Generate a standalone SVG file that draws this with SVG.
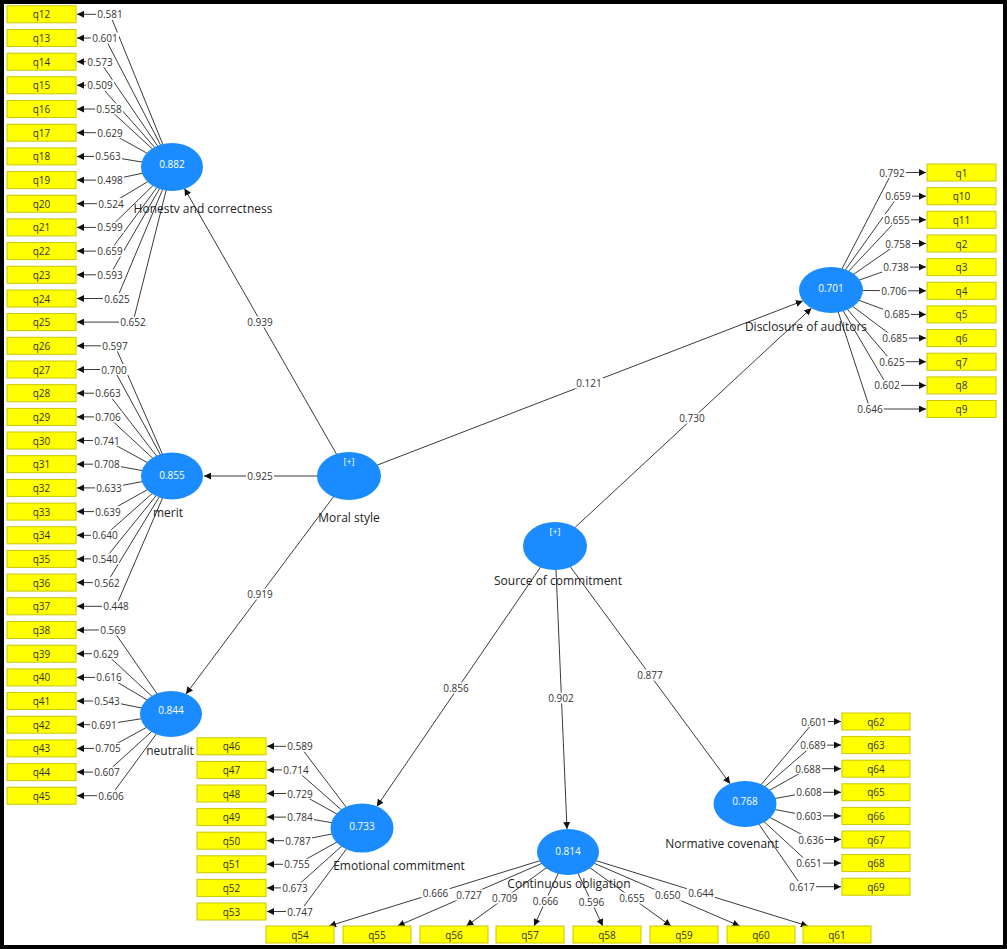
<svg xmlns="http://www.w3.org/2000/svg" width="1007" height="949" viewBox="0 0 1007 949">
<defs>
<marker id="ah" viewBox="0 0 10 10" refX="10" refY="5" markerWidth="7" markerHeight="7" markerUnits="userSpaceOnUse" orient="auto"><path d="M0,0 L10,5 L0,10 z" fill="#111"/></marker>
<style>
.ln{stroke:#3a3a3a;stroke-width:1;fill:none;marker-end:url(#ah)}
.lb rect{fill:#fff}
.lb text,.bx text{font-family:"Open Sans","Liberation Sans",sans-serif;font-size:10px;fill:#333;text-anchor:middle;dominant-baseline:central}
.bx rect{fill:#ffff00;stroke:#c8c800;stroke-width:1}
.lv ellipse{fill:#1a8cff}
.lv .v{font-family:"Open Sans","Liberation Sans",sans-serif;font-size:10px;fill:#fff;text-anchor:middle;dominant-baseline:central}
.lv .n{font-family:"Open Sans","Liberation Sans",sans-serif;font-size:12px;fill:#222;text-anchor:middle;dominant-baseline:central}
</style>
</defs>
<rect x="0" y="0" width="1007" height="949" fill="#fff"/>
<rect x="2" y="2" width="1003" height="945" fill="none" stroke="#000" stroke-width="4"/>

<g id="connectors">
<!-- structural -->
<path class="ln" d="M349,476 L184.5,188.5"/>
<path class="ln" d="M349,476 L204,476"/>
<path class="ln" d="M349,476 L186,694"/>
<path class="ln" d="M349,476 L802.8,300.9"/>
<path class="ln" d="M555,546 L811.4,308.2"/>
<path class="ln" d="M555,546 L376.8,806.4"/>
<path class="ln" d="M555,546 L567,829"/>
<path class="ln" d="M555,546 L730.1,783.7"/>
<!-- Honesty -->
<path class="ln" d="M172,167 L110,14.3 L77,14.3"/>
<path class="ln" d="M172,167 L105,38 L77,38"/>
<path class="ln" d="M172,167 L100,61.7 L77,61.7"/>
<path class="ln" d="M172,167 L100,85.3 L77,85.3"/>
<path class="ln" d="M172,167 L109,109 L77,109"/>
<path class="ln" d="M172,167 L110,132.7 L77,132.7"/>
<path class="ln" d="M172,167 L108,156.4 L77,156.4"/>
<path class="ln" d="M172,167 L110,180.1 L77,180.1"/>
<path class="ln" d="M172,167 L111,203.7 L77,203.7"/>
<path class="ln" d="M172,167 L110,227.4 L77,227.4"/>
<path class="ln" d="M172,167 L110,251.1 L77,251.1"/>
<path class="ln" d="M172,167 L110,274.8 L77,274.8"/>
<path class="ln" d="M172,167 L117,298.5 L77,298.5"/>
<path class="ln" d="M172,167 L133,322.1 L77,322.1"/>
<!-- Merit -->
<path class="ln" d="M172,476 L115,345.8 L77,345.8"/>
<path class="ln" d="M172,476 L114,369.5 L77,369.5"/>
<path class="ln" d="M172,476 L108,393.2 L77,393.2"/>
<path class="ln" d="M172,476 L108,416.9 L77,416.9"/>
<path class="ln" d="M172,476 L107,440.5 L77,440.5"/>
<path class="ln" d="M172,476 L107,464.2 L77,464.2"/>
<path class="ln" d="M172,476 L109,487.9 L77,487.9"/>
<path class="ln" d="M172,476 L108,511.6 L77,511.6"/>
<path class="ln" d="M172,476 L105,535.3 L77,535.3"/>
<path class="ln" d="M172,476 L105,558.9 L77,558.9"/>
<path class="ln" d="M172,476 L107,582.6 L77,582.6"/>
<path class="ln" d="M172,476 L116,606.3 L77,606.3"/>
<!-- Neutralit -->
<path class="ln" d="M171,714 L113,630 L77,630"/>
<path class="ln" d="M171,714 L106,653.7 L77,653.7"/>
<path class="ln" d="M171,714 L109,677.4 L77,677.4"/>
<path class="ln" d="M171,714 L107,701 L77,701"/>
<path class="ln" d="M171,714 L104,724.7 L77,724.7"/>
<path class="ln" d="M171,714 L108,748.4 L77,748.4"/>
<path class="ln" d="M171,714 L107,772.1 L77,772.1"/>
<path class="ln" d="M171,714 L111,795.7 L77,795.7"/>
<!-- Emotional -->
<path class="ln" d="M362,828 L300,746.3 L267,746.3"/>
<path class="ln" d="M362,828 L296,769.9 L267,769.9"/>
<path class="ln" d="M362,828 L300,793.5 L267,793.5"/>
<path class="ln" d="M362,828 L300,817.1 L267,817.1"/>
<path class="ln" d="M362,828 L298,840.7 L267,840.7"/>
<path class="ln" d="M362,828 L297,864.3 L267,864.3"/>
<path class="ln" d="M362,828 L295,887.9 L267,887.9"/>
<path class="ln" d="M362,828 L300,911.5 L267,911.5"/>
<!-- Disclosure -->
<path class="ln" d="M831,290 L892,172.5 L926,172.5"/>
<path class="ln" d="M831,290 L898,196.2 L926,196.2"/>
<path class="ln" d="M831,290 L897,219.8 L926,219.8"/>
<path class="ln" d="M831,290 L898,243.5 L926,243.5"/>
<path class="ln" d="M831,290 L896,267.1 L926,267.1"/>
<path class="ln" d="M831,290 L894,290.8 L926,290.8"/>
<path class="ln" d="M831,290 L897,314.4 L926,314.4"/>
<path class="ln" d="M831,290 L895,338.1 L926,338.1"/>
<path class="ln" d="M831,290 L892,361.7 L926,361.7"/>
<path class="ln" d="M831,290 L887,385.4 L926,385.4"/>
<path class="ln" d="M831,290 L870,409 L926,409"/>
<!-- Normative -->
<path class="ln" d="M745,804 L814,721.5 L841,721.5"/>
<path class="ln" d="M745,804 L813,745.1 L841,745.1"/>
<path class="ln" d="M745,804 L808,768.7 L841,768.7"/>
<path class="ln" d="M745,804 L809,792.3 L841,792.3"/>
<path class="ln" d="M745,804 L809,815.9 L841,815.9"/>
<path class="ln" d="M745,804 L811,839.5 L841,839.5"/>
<path class="ln" d="M745,804 L809,863.1 L841,863.1"/>
<path class="ln" d="M745,804 L802,886.7 L841,886.7"/>
<!-- Continuous -->
<path class="ln" d="M568,852 L329.1,926"/>
<path class="ln" d="M568,852 L397.7,926"/>
<path class="ln" d="M568,852 L466.4,926"/>
<path class="ln" d="M568,852 L534.1,926"/>
<path class="ln" d="M568,852 L602.8,926"/>
<path class="ln" d="M568,852 L671,926"/>
<path class="ln" d="M568,852 L739.6,926"/>
<path class="ln" d="M568,852 L807.8,926"/>
</g>

<g id="connector-labels" class="lb">
<rect x="246" y="316.5" width="28" height="11"/><text x="260" y="322">0.939</text>
<rect x="246" y="470.5" width="28" height="11"/><text x="260" y="476">0.925</text>
<rect x="246" y="588.5" width="28" height="11"/><text x="260" y="594">0.919</text>
<rect x="575" y="377.5" width="28" height="11"/><text x="589" y="383">0.121</text>
<rect x="678" y="412.5" width="28" height="11"/><text x="692" y="418">0.730</text>
<rect x="442" y="682.5" width="28" height="11"/><text x="456" y="688">0.856</text>
<rect x="547" y="692.5" width="28" height="11"/><text x="561" y="698">0.902</text>
<rect x="636" y="669.5" width="28" height="11"/><text x="650" y="675">0.877</text>

<rect x="96" y="8.8" width="28" height="11"/><text x="110" y="14.3">0.581</text>
<rect x="91" y="32.5" width="28" height="11"/><text x="105" y="38">0.601</text>
<rect x="86" y="56.2" width="28" height="11"/><text x="100" y="61.7">0.573</text>
<rect x="86" y="79.8" width="28" height="11"/><text x="100" y="85.3">0.509</text>
<rect x="95" y="103.5" width="28" height="11"/><text x="109" y="109">0.558</text>
<rect x="96" y="127.2" width="28" height="11"/><text x="110" y="132.7">0.629</text>
<rect x="94" y="150.9" width="28" height="11"/><text x="108" y="156.4">0.563</text>
<rect x="96" y="174.6" width="28" height="11"/><text x="110" y="180.1">0.498</text>
<rect x="97" y="198.2" width="28" height="11"/><text x="111" y="203.7">0.524</text>
<rect x="96" y="221.9" width="28" height="11"/><text x="110" y="227.4">0.599</text>
<rect x="96" y="245.6" width="28" height="11"/><text x="110" y="251.1">0.659</text>
<rect x="96" y="269.3" width="28" height="11"/><text x="110" y="274.8">0.593</text>
<rect x="103" y="293" width="28" height="11"/><text x="117" y="298.5">0.625</text>
<rect x="119" y="316.6" width="28" height="11"/><text x="133" y="322.1">0.652</text>

<rect x="101" y="340.3" width="28" height="11"/><text x="115" y="345.8">0.597</text>
<rect x="100" y="364" width="28" height="11"/><text x="114" y="369.5">0.700</text>
<rect x="94" y="387.7" width="28" height="11"/><text x="108" y="393.2">0.663</text>
<rect x="94" y="411.4" width="28" height="11"/><text x="108" y="416.9">0.706</text>
<rect x="93" y="435" width="28" height="11"/><text x="107" y="440.5">0.741</text>
<rect x="93" y="458.7" width="28" height="11"/><text x="107" y="464.2">0.708</text>
<rect x="95" y="482.4" width="28" height="11"/><text x="109" y="487.9">0.633</text>
<rect x="94" y="506.1" width="28" height="11"/><text x="108" y="511.6">0.639</text>
<rect x="91" y="529.8" width="28" height="11"/><text x="105" y="535.3">0.640</text>
<rect x="91" y="553.4" width="28" height="11"/><text x="105" y="558.9">0.540</text>
<rect x="93" y="577.1" width="28" height="11"/><text x="107" y="582.6">0.562</text>
<rect x="102" y="600.8" width="28" height="11"/><text x="116" y="606.3">0.448</text>

<rect x="99" y="624.5" width="28" height="11"/><text x="113" y="630">0.569</text>
<rect x="92" y="648.2" width="28" height="11"/><text x="106" y="653.7">0.629</text>
<rect x="95" y="671.9" width="28" height="11"/><text x="109" y="677.4">0.616</text>
<rect x="93" y="695.5" width="28" height="11"/><text x="107" y="701">0.543</text>
<rect x="90" y="719.2" width="28" height="11"/><text x="104" y="724.7">0.691</text>
<rect x="94" y="742.9" width="28" height="11"/><text x="108" y="748.4">0.705</text>
<rect x="93" y="766.6" width="28" height="11"/><text x="107" y="772.1">0.607</text>
<rect x="97" y="790.2" width="28" height="11"/><text x="111" y="795.7">0.606</text>

<rect x="286" y="740.8" width="28" height="11"/><text x="300" y="746.3">0.589</text>
<rect x="282" y="764.4" width="28" height="11"/><text x="296" y="769.9">0.714</text>
<rect x="286" y="788" width="28" height="11"/><text x="300" y="793.5">0.729</text>
<rect x="286" y="811.6" width="28" height="11"/><text x="300" y="817.1">0.784</text>
<rect x="284" y="835.2" width="28" height="11"/><text x="298" y="840.7">0.787</text>
<rect x="283" y="858.8" width="28" height="11"/><text x="297" y="864.3">0.755</text>
<rect x="281" y="882.4" width="28" height="11"/><text x="295" y="887.9">0.673</text>
<rect x="286" y="906" width="28" height="11"/><text x="300" y="911.5">0.747</text>

<rect x="878" y="167" width="28" height="11"/><text x="892" y="172.5">0.792</text>
<rect x="884" y="190.7" width="28" height="11"/><text x="898" y="196.2">0.659</text>
<rect x="883" y="214.3" width="28" height="11"/><text x="897" y="219.8">0.655</text>
<rect x="884" y="238" width="28" height="11"/><text x="898" y="243.5">0.758</text>
<rect x="882" y="261.6" width="28" height="11"/><text x="896" y="267.1">0.738</text>
<rect x="880" y="285.3" width="28" height="11"/><text x="894" y="290.8">0.706</text>
<rect x="883" y="308.9" width="28" height="11"/><text x="897" y="314.4">0.685</text>
<rect x="881" y="332.6" width="28" height="11"/><text x="895" y="338.1">0.685</text>
<rect x="878" y="356.2" width="28" height="11"/><text x="892" y="361.7">0.625</text>
<rect x="873" y="379.9" width="28" height="11"/><text x="887" y="385.4">0.602</text>
<rect x="856" y="403.5" width="28" height="11"/><text x="870" y="409">0.646</text>

<rect x="800" y="716" width="28" height="11"/><text x="814" y="721.5">0.601</text>
<rect x="799" y="739.6" width="28" height="11"/><text x="813" y="745.1">0.689</text>
<rect x="794" y="763.2" width="28" height="11"/><text x="808" y="768.7">0.688</text>
<rect x="795" y="786.8" width="28" height="11"/><text x="809" y="792.3">0.608</text>
<rect x="795" y="810.4" width="28" height="11"/><text x="809" y="815.9">0.603</text>
<rect x="797" y="834" width="28" height="11"/><text x="811" y="839.5">0.636</text>
<rect x="795" y="857.6" width="28" height="11"/><text x="809" y="863.1">0.651</text>
<rect x="788" y="881.2" width="28" height="11"/><text x="802" y="886.7">0.617</text>

<rect x="421.6" y="887.5" width="28" height="11"/><text x="435.6" y="893">0.666</text>
<rect x="455" y="889.5" width="28" height="11"/><text x="469" y="895">0.727</text>
<rect x="490.8" y="892.5" width="28" height="11"/><text x="504.8" y="898">0.709</text>
<rect x="531.6" y="895.5" width="28" height="11"/><text x="545.6" y="901">0.666</text>
<rect x="577.5" y="896.5" width="28" height="11"/><text x="591.5" y="902">0.596</text>
<rect x="618" y="892.5" width="28" height="11"/><text x="632" y="898">0.655</text>
<rect x="653.7" y="889.5" width="28" height="11"/><text x="667.7" y="895">0.650</text>
<rect x="686.9" y="887.5" width="28" height="11"/><text x="700.9" y="893">0.644</text>
</g>

<g id="honesty" class="lv"><ellipse cx="172" cy="167" rx="31" ry="24"/><text class="v" x="172" y="164">0.882</text><text class="n" x="203" y="208">Honestv and correctness</text></g>
<g id="merit" class="lv"><ellipse cx="172" cy="476" rx="31" ry="23.5"/><text class="v" x="172" y="475">0.855</text><text class="n" x="168" y="512">merit</text></g>
<g id="neutralit" class="lv"><ellipse cx="171" cy="714" rx="31" ry="23"/><text class="v" x="171" y="710">0.844</text><text class="n" x="170" y="750">neutralit</text></g>
<g id="moral-style" class="lv"><ellipse cx="349" cy="476" rx="32" ry="24"/><text class="v" x="349" y="461" style="font-size:9px">[+]</text><text class="n" x="349" y="517">Moral style</text></g>
<g id="source-of-commitment" class="lv"><ellipse cx="555" cy="546" rx="32" ry="24"/><text class="v" x="555" y="531" style="font-size:9px">[+]</text><text class="n" x="558" y="580">Source of commitment</text></g>
<g id="disclosure" class="lv"><ellipse cx="831" cy="290" rx="32" ry="23"/><text class="v" x="831" y="288">0.701</text><text class="n" x="806" y="326">Disclosure of auditors</text></g>
<g id="emotional" class="lv"><ellipse cx="362" cy="828" rx="31.5" ry="24.5"/><text class="v" x="362" y="826">0.733</text><text class="n" x="399" y="865">Emotional commitment</text></g>
<g id="continuous" class="lv"><ellipse cx="568" cy="852" rx="31" ry="23"/><text class="v" x="568" y="851">0.814</text><text class="n" x="569" y="883">Continuous obligation</text></g>
<g id="normative" class="lv"><ellipse cx="745" cy="804" rx="31.5" ry="23"/><text class="v" x="745" y="801">0.768</text><text class="n" x="722" y="843">Normative covenant</text></g>

<g id="ind-honesty" class="bx">
<g id="q12"><rect x="7" y="5.8" width="69" height="17"/><text x="41.5" y="14.3">q12</text></g>
<g id="q13"><rect x="7" y="29.5" width="69" height="17"/><text x="41.5" y="38">q13</text></g>
<g id="q14"><rect x="7" y="53.2" width="69" height="17"/><text x="41.5" y="61.7">q14</text></g>
<g id="q15"><rect x="7" y="76.8" width="69" height="17"/><text x="41.5" y="85.3">q15</text></g>
<g id="q16"><rect x="7" y="100.5" width="69" height="17"/><text x="41.5" y="109">q16</text></g>
<g id="q17"><rect x="7" y="124.2" width="69" height="17"/><text x="41.5" y="132.7">q17</text></g>
<g id="q18"><rect x="7" y="147.9" width="69" height="17"/><text x="41.5" y="156.4">q18</text></g>
<g id="q19"><rect x="7" y="171.6" width="69" height="17"/><text x="41.5" y="180.1">q19</text></g>
<g id="q20"><rect x="7" y="195.2" width="69" height="17"/><text x="41.5" y="203.7">q20</text></g>
<g id="q21"><rect x="7" y="218.9" width="69" height="17"/><text x="41.5" y="227.4">q21</text></g>
<g id="q22"><rect x="7" y="242.6" width="69" height="17"/><text x="41.5" y="251.1">q22</text></g>
<g id="q23"><rect x="7" y="266.3" width="69" height="17"/><text x="41.5" y="274.8">q23</text></g>
<g id="q24"><rect x="7" y="290" width="69" height="17"/><text x="41.5" y="298.5">q24</text></g>
<g id="q25"><rect x="7" y="313.6" width="69" height="17"/><text x="41.5" y="322.1">q25</text></g>
</g>
<g id="ind-merit" class="bx">
<g id="q26"><rect x="7" y="337.3" width="69" height="17"/><text x="41.5" y="345.8">q26</text></g>
<g id="q27"><rect x="7" y="361" width="69" height="17"/><text x="41.5" y="369.5">q27</text></g>
<g id="q28"><rect x="7" y="384.7" width="69" height="17"/><text x="41.5" y="393.2">q28</text></g>
<g id="q29"><rect x="7" y="408.4" width="69" height="17"/><text x="41.5" y="416.9">q29</text></g>
<g id="q30"><rect x="7" y="432" width="69" height="17"/><text x="41.5" y="440.5">q30</text></g>
<g id="q31"><rect x="7" y="455.7" width="69" height="17"/><text x="41.5" y="464.2">q31</text></g>
<g id="q32"><rect x="7" y="479.4" width="69" height="17"/><text x="41.5" y="487.9">q32</text></g>
<g id="q33"><rect x="7" y="503.1" width="69" height="17"/><text x="41.5" y="511.6">q33</text></g>
<g id="q34"><rect x="7" y="526.8" width="69" height="17"/><text x="41.5" y="535.3">q34</text></g>
<g id="q35"><rect x="7" y="550.4" width="69" height="17"/><text x="41.5" y="558.9">q35</text></g>
<g id="q36"><rect x="7" y="574.1" width="69" height="17"/><text x="41.5" y="582.6">q36</text></g>
<g id="q37"><rect x="7" y="597.8" width="69" height="17"/><text x="41.5" y="606.3">q37</text></g>
</g>
<g id="ind-neutralit" class="bx">
<g id="q38"><rect x="7" y="621.5" width="69" height="17"/><text x="41.5" y="630">q38</text></g>
<g id="q39"><rect x="7" y="645.2" width="69" height="17"/><text x="41.5" y="653.7">q39</text></g>
<g id="q40"><rect x="7" y="668.9" width="69" height="17"/><text x="41.5" y="677.4">q40</text></g>
<g id="q41"><rect x="7" y="692.5" width="69" height="17"/><text x="41.5" y="701">q41</text></g>
<g id="q42"><rect x="7" y="716.2" width="69" height="17"/><text x="41.5" y="724.7">q42</text></g>
<g id="q43"><rect x="7" y="739.9" width="69" height="17"/><text x="41.5" y="748.4">q43</text></g>
<g id="q44"><rect x="7" y="763.6" width="69" height="17"/><text x="41.5" y="772.1">q44</text></g>
<g id="q45"><rect x="7" y="787.2" width="69" height="17"/><text x="41.5" y="795.7">q45</text></g>
</g>
<g id="ind-emotional" class="bx">
<g id="q46"><rect x="197" y="737.8" width="69" height="17"/><text x="231.5" y="746.3">q46</text></g>
<g id="q47"><rect x="197" y="761.4" width="69" height="17"/><text x="231.5" y="769.9">q47</text></g>
<g id="q48"><rect x="197" y="785" width="69" height="17"/><text x="231.5" y="793.5">q48</text></g>
<g id="q49"><rect x="197" y="808.6" width="69" height="17"/><text x="231.5" y="817.1">q49</text></g>
<g id="q50"><rect x="197" y="832.2" width="69" height="17"/><text x="231.5" y="840.7">q50</text></g>
<g id="q51"><rect x="197" y="855.8" width="69" height="17"/><text x="231.5" y="864.3">q51</text></g>
<g id="q52"><rect x="197" y="879.4" width="69" height="17"/><text x="231.5" y="887.9">q52</text></g>
<g id="q53"><rect x="197" y="903" width="69" height="17"/><text x="231.5" y="911.5">q53</text></g>
</g>
<g id="ind-continuous" class="bx">
<g id="q54"><rect x="266" y="926" width="68" height="17"/><text x="300" y="934.5">q54</text></g>
<g id="q55"><rect x="343" y="926" width="68" height="17"/><text x="377" y="934.5">q55</text></g>
<g id="q56"><rect x="420" y="926" width="68" height="17"/><text x="454" y="934.5">q56</text></g>
<g id="q57"><rect x="496" y="926" width="68" height="17"/><text x="530" y="934.5">q57</text></g>
<g id="q58"><rect x="573" y="926" width="68" height="17"/><text x="607" y="934.5">q58</text></g>
<g id="q59"><rect x="650" y="926" width="68" height="17"/><text x="684" y="934.5">q59</text></g>
<g id="q60"><rect x="727" y="926" width="68" height="17"/><text x="761" y="934.5">q60</text></g>
<g id="q61"><rect x="803" y="926" width="68" height="17"/><text x="837" y="934.5">q61</text></g>
</g>
<g id="ind-disclosure" class="bx">
<g id="q1"><rect x="927" y="164" width="69" height="17"/><text x="961.5" y="172.5">q1</text></g>
<g id="q10"><rect x="927" y="187.7" width="69" height="17"/><text x="961.5" y="196.2">q10</text></g>
<g id="q11"><rect x="927" y="211.3" width="69" height="17"/><text x="961.5" y="219.8">q11</text></g>
<g id="q2"><rect x="927" y="235" width="69" height="17"/><text x="961.5" y="243.5">q2</text></g>
<g id="q3"><rect x="927" y="258.6" width="69" height="17"/><text x="961.5" y="267.1">q3</text></g>
<g id="q4"><rect x="927" y="282.3" width="69" height="17"/><text x="961.5" y="290.8">q4</text></g>
<g id="q5"><rect x="927" y="305.9" width="69" height="17"/><text x="961.5" y="314.4">q5</text></g>
<g id="q6"><rect x="927" y="329.6" width="69" height="17"/><text x="961.5" y="338.1">q6</text></g>
<g id="q7"><rect x="927" y="353.2" width="69" height="17"/><text x="961.5" y="361.7">q7</text></g>
<g id="q8"><rect x="927" y="376.9" width="69" height="17"/><text x="961.5" y="385.4">q8</text></g>
<g id="q9"><rect x="927" y="400.5" width="69" height="17"/><text x="961.5" y="409">q9</text></g>
</g>
<g id="ind-normative" class="bx">
<g id="q62"><rect x="842" y="713" width="68" height="17"/><text x="876" y="721.5">q62</text></g>
<g id="q63"><rect x="842" y="736.6" width="68" height="17"/><text x="876" y="745.1">q63</text></g>
<g id="q64"><rect x="842" y="760.2" width="68" height="17"/><text x="876" y="768.7">q64</text></g>
<g id="q65"><rect x="842" y="783.8" width="68" height="17"/><text x="876" y="792.3">q65</text></g>
<g id="q66"><rect x="842" y="807.4" width="68" height="17"/><text x="876" y="815.9">q66</text></g>
<g id="q67"><rect x="842" y="831" width="68" height="17"/><text x="876" y="839.5">q67</text></g>
<g id="q68"><rect x="842" y="854.6" width="68" height="17"/><text x="876" y="863.1">q68</text></g>
<g id="q69"><rect x="842" y="878.2" width="68" height="17"/><text x="876" y="886.7">q69</text></g>
</g>
</svg>
